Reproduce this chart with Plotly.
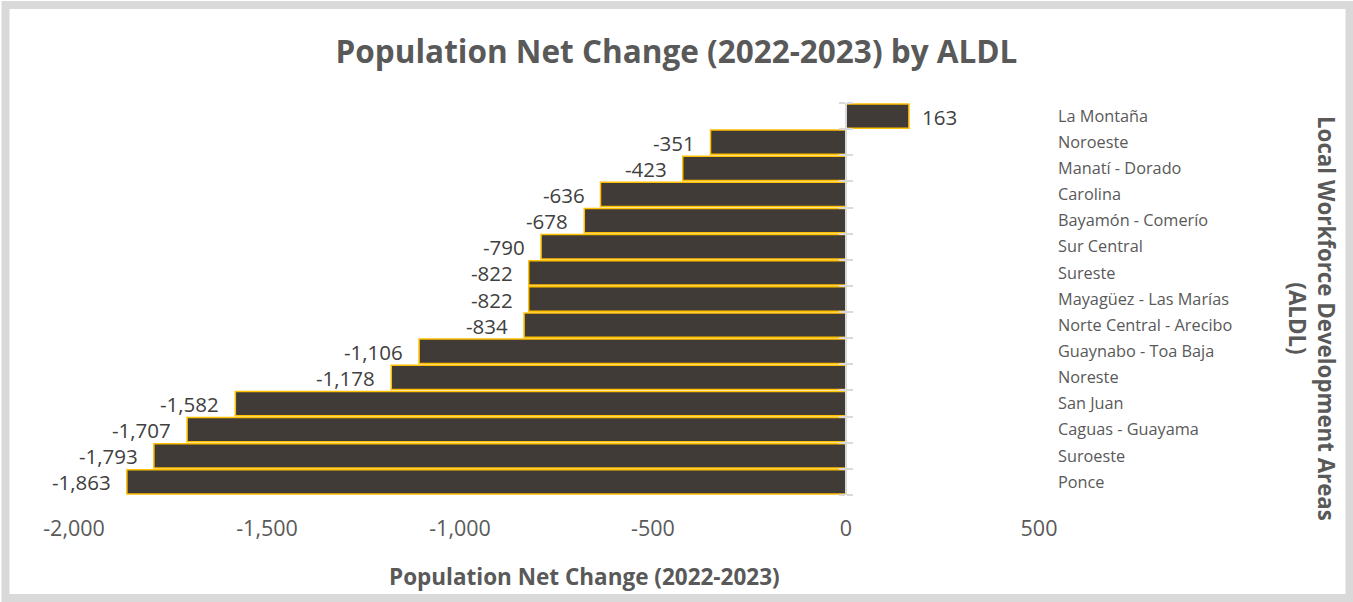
import plotly.graph_objects as go

# Local Workforce Development Areas (top to bottom) and their 2022-2023 net population change
areas = [
    "La Montaña", "Noroeste", "Manatí - Dorado", "Carolina", "Bayamón - Comerío",
    "Sur Central", "Sureste", "Mayagüez - Las Marías", "Norte Central - Arecibo",
    "Guaynabo - Toa Baja", "Noreste", "San Juan", "Caguas - Guayama", "Suroeste", "Ponce",
]
net_change = [163, -351, -423, -636, -678, -790, -822, -822, -834,
              -1106, -1178, -1582, -1707, -1793, -1863]

x_ticks = [-2000, -1500, -1000, -500, 0, 500]
x_tick_text = [f"{v:,}" for v in x_ticks]

W, H = 1353, 602
ML, MR, MT, MB = 74, 314, 103, 107
PW, PH = W - ML - MR, H - MT - MB

FONT = "Open Sans"
TXT = "#595959"
n = len(areas)


def px_x(p):
    return (p - ML) / PW


def px_y(p):
    return (H - MB - p) / PH


fig = go.Figure()
fig.add_trace(go.Bar(
    x=net_change, y=areas, orientation="h",
    marker=dict(color="#403B36", line=dict(color="#FFC000", width=1.5)),
    hoverinfo="x+y",
))

# value labels beside each bar end
for a, v in zip(areas, net_change):
    fig.add_annotation(
        x=v, y=a, xref="x", yref="y", text=f"{v:,}", showarrow=False,
        xanchor="left" if v >= 0 else "right", xshift=13 if v >= 0 else -16,
        yshift=-0.5, borderpad=0, borderwidth=0,
        font=dict(family=FONT, size=20.5, color="#404040"),
    )

zero_pos = (0 - x_ticks[0]) / (x_ticks[-1] - x_ticks[0])
bounds = [i - 0.5 for i in range(n + 1)]

fig.update_layout(
    width=W, height=H,
    margin=dict(l=ML, r=MR, t=MT, b=MB),
    paper_bgcolor="white", plot_bgcolor="white",
    showlegend=False, bargap=0.07,
    title=dict(text="<b>Population Net Change (2022-2023) by ALDL</b>",
               x=0.5, xref="container", xanchor="center",
               y=1 - 52 / H, yanchor="middle", yref="container",
               font=dict(family=FONT, size=31.5, color=TXT)),
    font=dict(family=FONT, color=TXT),
    xaxis=dict(range=[x_ticks[0], x_ticks[-1]], tickvals=x_ticks, ticktext=x_tick_text,
               showgrid=False, zeroline=False, showline=False, ticks="",
               tickfont=dict(family=FONT, size=21.5, color=TXT), ticklabelstandoff=18),
    yaxis=dict(type="category", categoryorder="array", categoryarray=areas,
               range=[n - 0.5, -0.5], side="right", showgrid=False, ticks="",
               showline=False, zeroline=False, ticklabelstandoff=18,
               tickfont=dict(family=FONT, size=16.3, color=TXT)),
    yaxis2=dict(overlaying="y", anchor="free", position=zero_pos, side="left",
                range=[n - 0.5, -0.5], tickvals=bounds, showticklabels=False,
                ticks="outside", ticklen=6, tickcolor="#D9D9D9", tickwidth=1.5,
                showline=True, linecolor="#D9D9D9", linewidth=1.5, showgrid=False,
                zeroline=False),
    yaxis3=dict(overlaying="y", anchor="free", position=zero_pos, side="right",
                range=[n - 0.5, -0.5], tickvals=bounds, showticklabels=False,
                ticks="outside", ticklen=6, tickcolor="#D9D9D9", tickwidth=1.5,
                showline=False, showgrid=False, zeroline=False),
)

# empty traces so the boundary tick axes render
fig.add_trace(go.Scatter(x=[None], y=[None], yaxis="y2", showlegend=False, hoverinfo="skip"))
fig.add_trace(go.Scatter(x=[None], y=[None], yaxis="y3", showlegend=False, hoverinfo="skip"))

# axis titles
fig.add_annotation(
    x=px_x(584), y=px_y(576), xref="paper", yref="paper", showarrow=False,
    text="<b>Population Net Change (2022-2023)</b>", xanchor="center", yanchor="middle",
    font=dict(family=FONT, size=22.5, color=TXT),
)
fig.add_annotation(
    x=px_x(1312), y=px_y(318), xref="paper", yref="paper", showarrow=False,
    text="<b>Local Workforce Development Areas<br>(ALDL)</b>", textangle=90,
    xanchor="center", yanchor="middle",
    font=dict(family=FONT, size=22.3, color=TXT),
)

# chart border
fig.add_shape(type="rect", xref="paper", yref="paper",
              x0=px_x(5.5), x1=px_x(1349.5), y0=px_y(598), y1=px_y(5),
              line=dict(color="#D9D9D9", width=8), fillcolor="rgba(0,0,0,0)", layer="below")

fig.write_html("out.html")
